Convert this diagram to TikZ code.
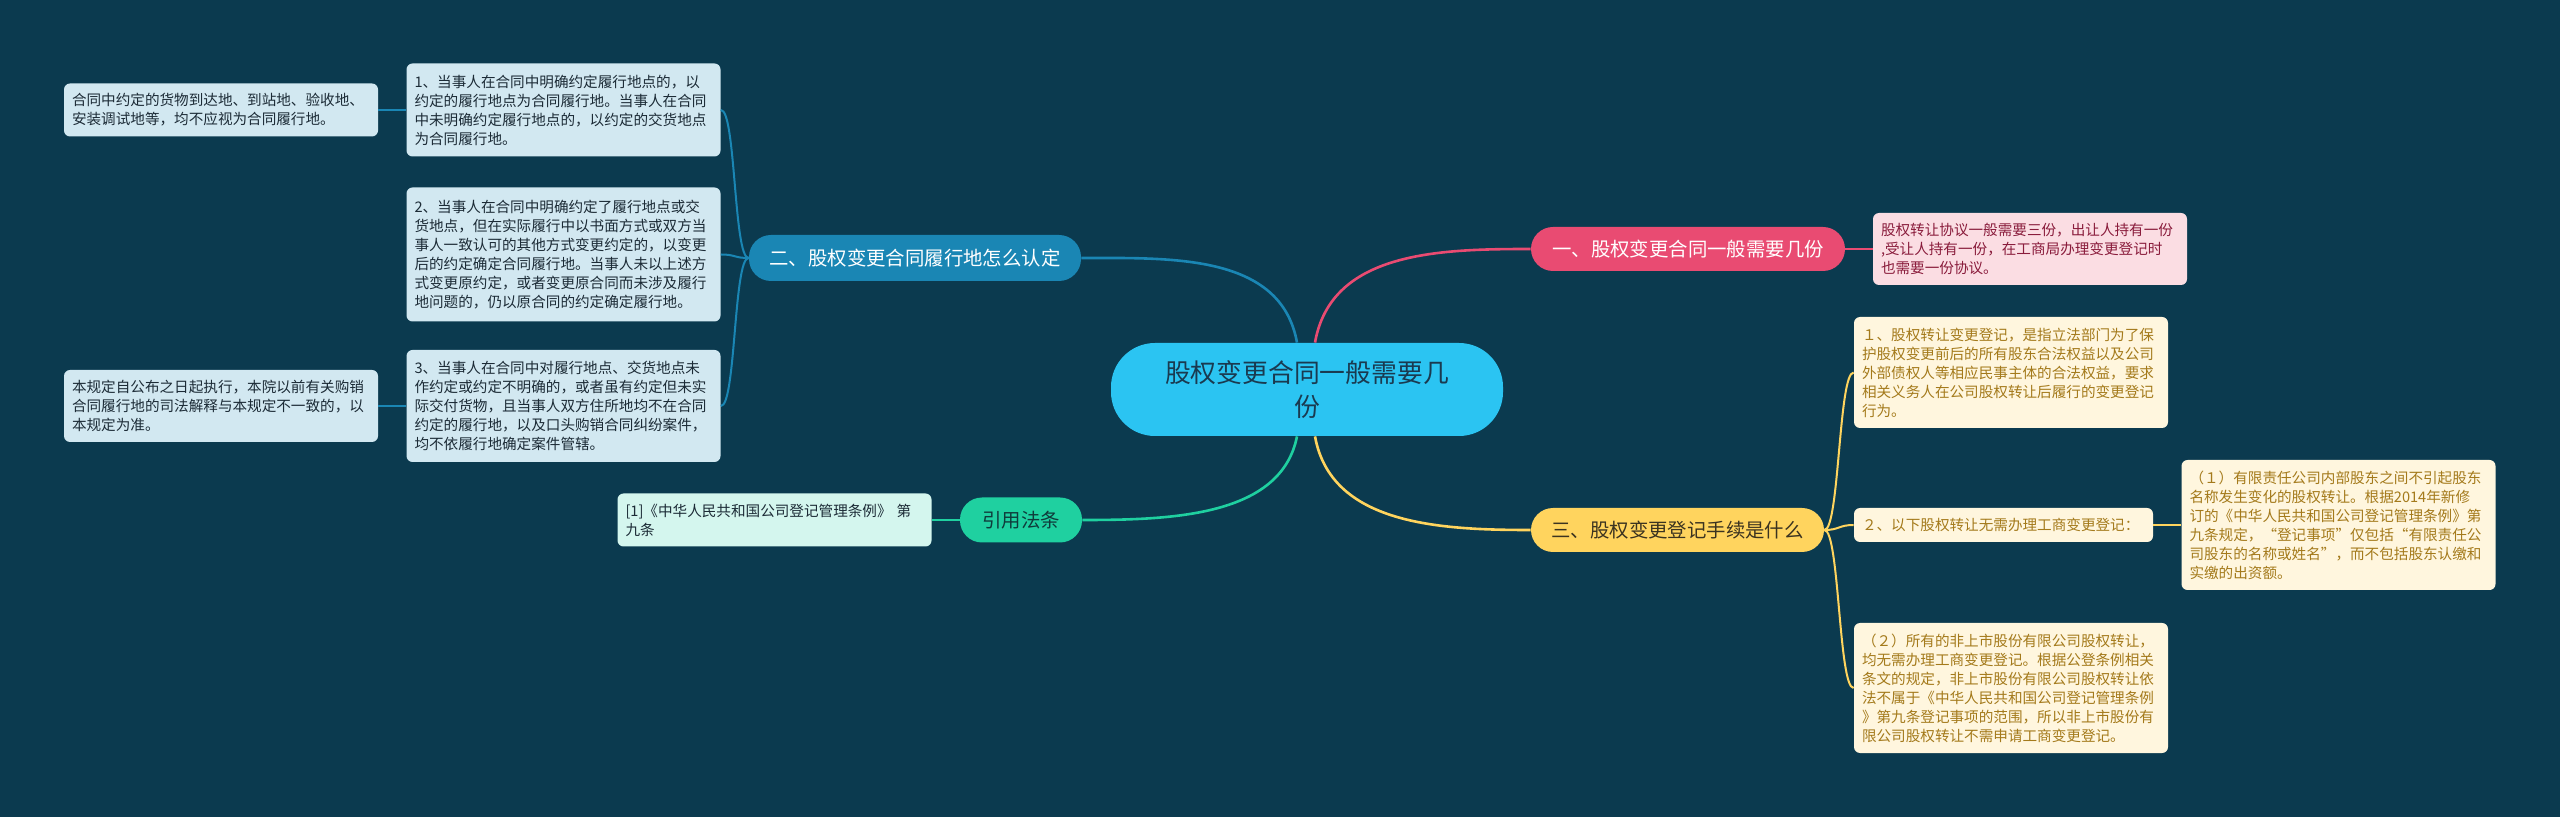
\documentclass[tikz,border=0pt]{standalone}
\usepackage{fontspec}
\setmainfont{Noto Sans CJK SC}

\definecolor{bgteal}{HTML}{0B3A4F}
\definecolor{hubblue}{HTML}{2BC4F2}
\definecolor{hubtext}{HTML}{1A3A50}
\definecolor{pinkdark}{HTML}{E94B72}
\definecolor{pinklight}{HTML}{FBDDE3}
\definecolor{pinktext}{HTML}{8A1C3C}
\definecolor{golddark}{HTML}{FFD45E}
\definecolor{goldlight}{HTML}{FFF6DE}
\definecolor{goldtext}{HTML}{A47A1B}
\definecolor{goldhead}{HTML}{3B3320}
\definecolor{bluedark}{HTML}{1A86B4}
\definecolor{bluelight}{HTML}{D2E8F1}
\definecolor{bluetext}{HTML}{1C2B36}
\definecolor{greendark}{HTML}{1FD0A0}
\definecolor{greenlight}{HTML}{D4F6EE}
\definecolor{greentext}{HTML}{0F3B3B}

\begin{document}
\begin{tikzpicture}[x=0.5pt,y=-0.5pt,
        leaf/.style={rounded corners=3pt,inner xsep=4pt,text width=149pt,
          align=left,font=\fontsize{7.3}{9.5}\selectfont},
        topic/.style={rounded corners=11pt,align=center,
          font=\fontsize{9.7}{12}\selectfont},
        link/.style={line width=1pt},
        hublink/.style={line width=1.3pt}]

  \fill[bgteal] (0,0) rectangle (2560,817);
  \useasboundingbox (0,0) rectangle (2560,817);

  % centre and main topics
  \node[fill=hubblue,text=hubtext,rounded corners=22pt,minimum width=196pt,
        minimum height=46.5pt,align=center,
        font=\fontsize{12.9}{16.7}\selectfont] (ctr) at (1307,389.5)
        {股权变更合同一般需要几\\份};
  \node[topic,fill=pinkdark,text=white,minimum width=157pt,minimum height=22pt]
        (pink) at (1688,249) {一、股权变更合同一般需要几份};
  \node[topic,fill=golddark,text=goldhead,minimum width=146.5pt,minimum height=22pt]
        (gold) at (1677.5,530) {三、股权变更登记手续是什么};
  \node[topic,fill=bluedark,text=white,minimum width=166pt,minimum height=23pt]
        (blue) at (915,258) {二、股权变更合同履行地怎么认定};
  \node[topic,fill=greendark,text=greentext,minimum width=61pt,minimum height=22.5pt]
        (green) at (1021,520) {引用法条};

  % pink branch
  \node[leaf,fill=pinklight,text=pinktext,minimum height=36pt] (pl) at (2030,249)
        {股权转让协议一般需要三份，出让人持有一份\\,受让人持有一份，在工商局办理变更登记时\\也需要一份协议。};

  % blue branch
  \node[leaf,fill=bluelight,text=bluetext,minimum height=46.5pt] (b1) at (563.5,110)
        {1、当事人在合同中明确约定履行地点的，以\\约定的履行地点为合同履行地。当事人在合同\\中未明确约定履行地点的，以约定的交货地点\\为合同履行地。};
  \node[leaf,fill=bluelight,text=bluetext,minimum height=67pt] (b2) at (563.5,254.5)
        {2、当事人在合同中明确约定了履行地点或交\\货地点，但在实际履行中以书面方式或双方当\\事人一致认可的其他方式变更约定的，以变更\\后的约定确定合同履行地。当事人未以上述方\\式变更原约定，或者变更原合同而未涉及履行\\地问题的，仍以原合同的约定确定履行地。};
  \node[leaf,fill=bluelight,text=bluetext,minimum height=56pt] (b3) at (563.5,406)
        {3、当事人在合同中对履行地点、交货地点未\\作约定或约定不明确的，或者虽有约定但未实\\际交付货物，且当事人双方住所地均不在合同\\约定的履行地，以及口头购销合同纠纷案件，\\均不依履行地确定案件管辖。};
  \node[leaf,fill=bluelight,text=bluetext,minimum height=26.5pt] (ba) at (221,110)
        {合同中约定的货物到达地、到站地、验收地、\\安装调试地等，均不应视为合同履行地。};
  \node[leaf,fill=bluelight,text=bluetext,minimum height=36pt] (bb) at (221,406)
        {本规定自公布之日起执行，本院以前有关购销\\合同履行地的司法解释与本规定不一致的，以\\本规定为准。};

  % green branch
  \node[leaf,fill=greenlight,text=bluetext,minimum height=26.5pt] (gl) at (774.5,520)
        {[1]《中华人民共和国公司登记管理条例》 第\\九条};

  % gold branch
  \node[leaf,fill=goldlight,text=goldtext,minimum height=55.5pt] (y1) at (2011,372.5)
        {１、股权转让变更登记，是指立法部门为了保\\护股权变更前后的所有股东合法权益以及公司\\外部债权人等相应民事主体的合法权益，要求\\相关义务人在公司股权转让后履行的变更登记\\行为。};
  \node[leaf,fill=goldlight,text=goldtext,text width=141.5pt,minimum height=17pt]
        (y2) at (2003.5,525) {２、以下股权转让无需办理工商变更登记：};
  \node[leaf,fill=goldlight,text=goldtext,minimum height=65pt] (y3) at (2338.5,525)
        {（１）有限责任公司内部股东之间不引起股东\\名称发生变化的股权转让。根据2014年新修\\订的《中华人民共和国公司登记管理条例》第\\九条规定，“登记事项”仅包括“有限责任公\\司股东的名称或姓名”，而不包括股东认缴和\\实缴的出资额。};
  \node[leaf,fill=goldlight,text=goldtext,minimum height=65pt] (y4) at (2011,688)
        {（２）所有的非上市股份有限公司股权转让，\\均无需办理工商变更登记。根据公登条例相关\\条文的规定，非上市股份有限公司股权转让依\\法不属于《中华人民共和国公司登记管理条例\\》第九条登记事项的范围，所以非上市股份有\\限公司股权转让不需申请工商变更登记。};

  % links from the centre
  \draw[hublink,bluedark] ([xshift=-5pt]ctr.north)
        .. controls +(-16,-89) and +(90,0) .. (blue.east);
  \draw[hublink,pinkdark] ([xshift=4pt]ctr.north)
        .. controls +(16,-91) and +(-92,0) .. (pink.west);
  \draw[hublink,greendark] ([xshift=-5pt]ctr.south)
        .. controls +(-16,80) and +(90,0) .. (green.east);
  \draw[hublink,golddark] ([xshift=4pt]ctr.south)
        .. controls +(16,88) and +(-92,0) .. (gold.west);

  % links to the leaves
  \draw[link,pinkdark] (pink.east) -- (pl.west);
  \foreach \leafname in {b1,b2,b3}
    \draw[link,bluedark] (blue.west) .. controls +(-15,0) and +(15,0) .. (\leafname.east);
  \draw[link,bluedark] (ba.east) -- (b1.west);
  \draw[link,bluedark] (bb.east) -- (b3.west);
  \draw[link,greendark] (gl.east) -- (green.west);
  \foreach \leafname in {y1,y2,y4}
    \draw[link,golddark] (gold.east) .. controls +(15,0) and +(-15,0) .. (\leafname.west);
  \draw[link,golddark] (y2.east) -- (y3.west);

\end{tikzpicture}
\end{document}
